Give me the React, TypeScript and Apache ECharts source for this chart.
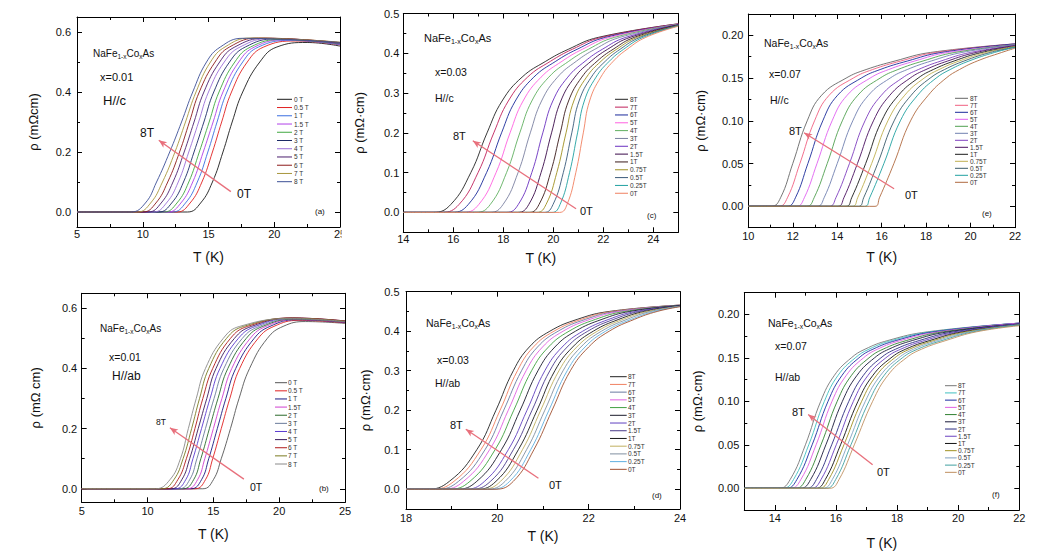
import { useEffect, useRef } from "react";
import * as echarts from "echarts";

const FONT = "'Liberation Sans', Arial, Helvetica, sans-serif";

// ---------------- Panel (a): x=0.01, H//c ----------------
const fieldsA = ["0 T", "0.5 T", "1 T", "1.5 T", "2 T", "3 T", "4 T", "5 T", "6 T", "7 T", "8 T"];
const colorsA = ["#1a1a1a", "#e02020", "#3a6ee0", "#b040e8", "#40a840", "#1c2a66", "#9b6fd8", "#4b1f6e", "#8c1a1a", "#a8963c", "#3c4f96"];
const levelsA = [0, 0.03, 0.1, 0.2, 0.3, 0.4, 0.5, 0.55];
const tempsA = [
  [13.4, 14.4, 15.3, 16.1, 16.8, 17.6, 18.9, 20.2],
  [12.6, 13.6, 14.5, 15.3, 16.0, 16.75, 17.95, 19.2],
  [12.25, 13.25, 14.15, 14.95, 15.65, 16.4, 17.6, 18.8],
  [11.9, 12.9, 13.8, 14.6, 15.35, 16.1, 17.3, 18.5],
  [11.6, 12.6, 13.5, 14.3, 15.05, 15.8, 17.0, 18.2],
  [11.2, 12.2, 13.1, 13.9, 14.65, 15.4, 16.6, 17.8],
  [10.8, 11.8, 12.7, 13.5, 14.25, 15.0, 16.2, 17.4],
  [10.4, 11.4, 12.3, 13.15, 13.9, 14.65, 15.85, 17.0],
  [10.0, 11.0, 11.9, 12.8, 13.55, 14.3, 15.5, 16.6],
  [9.6, 10.6, 11.5, 12.45, 13.25, 14.05, 15.15, 16.25],
  [9.1, 10.2, 11.05, 12.05, 12.95, 13.8, 14.85, 15.9],
];
const plateauA = [[22.5, 0.565], [21.6, 0.57], [21.2, 0.572], [20.8, 0.574], [20.5, 0.575], [20.1, 0.577], [19.7, 0.578], [19.3, 0.579], [18.8, 0.58], [18.2, 0.58], [17.6, 0.579]];
const endA = [0.553, 0.557, 0.558, 0.56, 0.561, 0.562, 0.563, 0.564, 0.565, 0.566, 0.565];
const xTicksA = [5, 10, 15, 20, 25];
const xMinorA = [7.5, 12.5, 17.5, 22.5];
const yTicksA = [0, 0.2, 0.4, 0.6];
const yMinorA = [0.1, 0.3, 0.5];
const arrowA = [[16.7, 0.068], [11.22, 0.239]];

// ---------------- Panel (b): x=0.01, H//ab ----------------
const fieldsB = ["0 T", "0.5 T", "1 T", "1.5T", "2 T", "3 T", "4 T", "5 T", "6 T", "7 T", "8 T"];
const colorsB = ["#555555", "#e02020", "#1a1a80", "#d040d0", "#2a6a2a", "#6a7a9a", "#5a3ad0", "#3a1a5a", "#b01a1a", "#7a7a20", "#8a8a8a"];
const levelsB = [0, 0.03, 0.1, 0.2, 0.3, 0.4, 0.5, 0.54];
const tempsB = [
  [14.2, 15.0, 15.6, 16.3, 16.95, 17.75, 19.1, 20.3],
  [13.6, 14.4, 14.95, 15.6, 16.25, 17.0, 18.4, 19.6],
  [13.3, 14.1, 14.65, 15.3, 15.95, 16.7, 18.1, 19.3],
  [13.0, 13.8, 14.35, 15.0, 15.65, 16.4, 17.8, 19.0],
  [12.7, 13.5, 14.05, 14.7, 15.35, 16.1, 17.5, 18.75],
  [12.4, 13.2, 13.75, 14.4, 15.05, 15.8, 17.2, 18.5],
  [12.1, 12.9, 13.45, 14.1, 14.75, 15.5, 16.9, 18.2],
  [11.8, 12.6, 13.2, 13.85, 14.5, 15.2, 16.6, 17.9],
  [11.5, 12.3, 12.95, 13.6, 14.2, 14.95, 16.3, 17.6],
  [11.1, 12.0, 12.7, 13.35, 13.95, 14.65, 16.0, 17.3],
  [10.6, 11.7, 12.5, 13.1, 13.7, 14.4, 15.75, 17.0],
];
const plateauB = [[22.0, 0.556], [21.5, 0.56], [21.3, 0.562], [21.2, 0.563], [21.1, 0.564], [21.0, 0.565], [21.0, 0.567], [21.0, 0.568], [21.0, 0.568], [21.0, 0.567], [21.0, 0.566]];
const endB = [0.55, 0.552, 0.553, 0.554, 0.555, 0.556, 0.557, 0.558, 0.558, 0.557, 0.556];
const xTicksB = [5, 10, 15, 20, 25];
const xMinorB = [7.5, 12.5, 17.5, 22.5];
const yTicksB = [0, 0.2, 0.4, 0.6];
const yMinorB = [0.1, 0.3, 0.5];
const arrowB = [[17.32, 0.032], [11.7, 0.203]];

// ---------------- Panel (c): x=0.03, H//c ----------------
const fieldsC = ["8T", "7T", "6T", "5T", "4T", "3T", "2T", "1.5T", "1T", "0.75T", "0.5T", "0.25T", "0T"];
const colorsC = ["#222222", "#c0205a", "#1a2a9a", "#ff60e0", "#60b060", "#7a80a0", "#6a30c0", "#3a0a4a", "#3a1a1a", "#a09020", "#3a5a7a", "#20a0a0", "#f08060"];
const levelsC = [0, 0.02, 0.1, 0.2, 0.28, 0.34, 0.38, 0.41, 0.44];
const tempsC = [
  [15.2, 15.9, 16.7, 17.35, 17.95, 18.75, 19.7, 20.6, 21.8],
  [15.55, 16.23, 16.99, 17.62, 18.2, 18.97, 19.89, 20.76, 21.93],
  [15.96, 16.6, 17.33, 17.93, 18.48, 19.22, 20.1, 20.95, 22.09],
  [16.41, 17.02, 17.71, 18.27, 18.79, 19.51, 20.35, 21.16, 22.26],
  [16.92, 17.48, 18.13, 18.66, 19.14, 19.82, 20.62, 21.4, 22.45],
  [17.47, 17.99, 18.59, 19.08, 19.53, 20.17, 20.92, 21.66, 22.66],
  [18.13, 18.6, 19.14, 19.58, 19.98, 20.58, 21.27, 21.96, 22.9],
  [18.58, 19.02, 19.51, 19.93, 20.3, 20.86, 21.51, 22.17, 23.07],
  [19.04, 19.43, 19.89, 20.28, 20.61, 21.14, 21.75, 22.39, 23.24],
  [19.34, 19.71, 20.14, 20.51, 20.82, 21.33, 21.91, 22.53, 23.36],
  [19.64, 19.99, 20.4, 20.74, 21.03, 21.52, 22.08, 22.67, 23.47],
  [19.95, 20.27, 20.65, 20.97, 21.24, 21.71, 22.24, 22.81, 23.59],
  [20.25, 20.55, 20.9, 21.2, 21.45, 21.9, 22.4, 22.95, 23.7],
];
const endC = [0.474, 0.474, 0.473, 0.473, 0.473, 0.472, 0.472, 0.471, 0.471, 0.47, 0.47, 0.469, 0.468];
const xTicksC = [14, 16, 18, 20, 22, 24];
const xMinorC = [15, 17, 19, 21, 23];
const yTicksC = [0, 0.1, 0.2, 0.3, 0.4, 0.5];
const yMinorC = [0.05, 0.15, 0.25, 0.35, 0.45];
const arrowC = [[20.91, 0.009], [16.78, 0.18]];

// ---------------- Panel (d): x=0.03, H//ab ----------------
const fieldsD = ["8T", "7T", "6T", "5T", "4T", "3T", "2T", "1.5T", "1T", "0.75T", "0.5T", "0.25T", "0T"];
const colorsD = ["#222222", "#f08060", "#6a7aa0", "#e060e0", "#40a040", "#1a1a2a", "#6040c0", "#4a3a8a", "#1a1a1a", "#c0b060", "#8090a0", "#60b0e0", "#a05030"];
const levelsD = [0, 0.02, 0.1, 0.2, 0.3, 0.36, 0.4, 0.43, 0.45];
const tempsD = [
  [18.45, 18.95, 19.55, 19.97, 20.35, 20.7, 21.15, 21.75, 22.45],
  [18.55, 19.05, 19.64, 20.06, 20.44, 20.79, 21.24, 21.84, 22.52],
  [18.66, 19.15, 19.73, 20.14, 20.53, 20.88, 21.33, 21.93, 22.6],
  [18.78, 19.26, 19.83, 20.24, 20.63, 20.99, 21.44, 22.03, 22.68],
  [18.93, 19.4, 19.95, 20.36, 20.75, 21.12, 21.57, 22.15, 22.79],
  [19.1, 19.55, 20.09, 20.5, 20.89, 21.26, 21.71, 22.29, 22.9],
  [19.28, 19.72, 20.24, 20.65, 21.04, 21.42, 21.87, 22.44, 23.03],
  [19.41, 19.85, 20.35, 20.76, 21.15, 21.53, 21.98, 22.55, 23.12],
  [19.55, 19.97, 20.46, 20.87, 21.26, 21.65, 22.1, 22.66, 23.22],
  [19.65, 20.07, 20.55, 20.95, 21.35, 21.74, 22.19, 22.75, 23.29],
  [19.76, 20.17, 20.64, 21.04, 21.44, 21.83, 22.28, 22.84, 23.36],
  [19.86, 20.27, 20.73, 21.13, 21.53, 21.92, 22.37, 22.93, 23.44],
  [19.95, 20.35, 20.8, 21.2, 21.6, 22.0, 22.45, 23.0, 23.5],
];
const endD = [0.466, 0.466, 0.466, 0.465, 0.465, 0.465, 0.464, 0.464, 0.464, 0.463, 0.463, 0.463, 0.462];
const xTicksD = [18, 20, 22, 24];
const xMinorD = [19, 21, 23];
const yTicksD = [0, 0.1, 0.2, 0.3, 0.4, 0.5];
const yMinorD = [0.05, 0.15, 0.25, 0.35, 0.45];
const arrowD = [[20.9, 0.028], [19.31, 0.152]];

// ---------------- Panel (e): x=0.07, H//c ----------------
const fieldsE = ["8T", "7T", "6T", "5T", "4T", "3T", "2T", "1.5T", "1T", "0.75T", "0.5T", "0.25T", "0T"];
const colorsE = ["#666666", "#f06080", "#1a2a9a", "#e060f0", "#50a050", "#7080b0", "#8040c0", "#4a1060", "#1a1a1a", "#c0b050", "#3a5a6a", "#20a0a0", "#b06a40"];
const levelsE = [0, 0.01, 0.05, 0.1, 0.13, 0.15, 0.16, 0.17, 0.18];
const tempsE = [
  [11.05, 11.45, 12.0, 12.65, 13.3, 14.4, 15.3, 16.6, 18.2],
  [11.38, 11.76, 12.32, 12.98, 13.64, 14.72, 15.59, 16.86, 18.42],
  [11.75, 12.12, 12.68, 13.35, 14.02, 15.08, 15.93, 17.16, 18.68],
  [12.17, 12.52, 13.09, 13.77, 14.45, 15.48, 16.31, 17.49, 18.97],
  [12.63, 12.96, 13.55, 14.23, 14.93, 15.93, 16.73, 17.86, 19.29],
  [13.1, 13.41, 14.0, 14.7, 15.41, 16.38, 17.15, 18.23, 19.61],
  [13.65, 13.94, 14.55, 15.25, 15.99, 16.92, 17.65, 18.67, 19.99],
  [14.03, 14.3, 14.91, 15.63, 16.37, 17.28, 17.99, 18.97, 20.25],
  [14.4, 14.65, 15.28, 16.0, 16.76, 17.64, 18.32, 19.26, 20.5],
  [14.68, 14.92, 15.55, 16.28, 17.04, 17.91, 18.58, 19.49, 20.7],
  [14.96, 15.19, 15.82, 16.56, 17.33, 18.18, 18.83, 19.71, 20.89],
  [15.24, 15.46, 16.1, 16.84, 17.62, 18.45, 19.08, 19.93, 21.08],
  [15.7, 15.9, 16.55, 17.3, 18.1, 18.9, 19.5, 20.3, 21.4],
];
const endE = [0.19, 0.19, 0.19, 0.189, 0.189, 0.189, 0.188, 0.188, 0.187, 0.187, 0.186, 0.186, 0.185];
const xTicksE = [10, 12, 14, 16, 18, 20, 22];
const xMinorE = [11, 13, 15, 17, 19, 21];
const yTicksE = [0, 0.05, 0.1, 0.15, 0.2];
const yMinorE = [0.025, 0.075, 0.125, 0.175];
const arrowE = [[16.56, 0.0205], [12.51, 0.086]];

// ---------------- Panel (f): x=0.07, H//ab ----------------
const fieldsF = ["8T", "7T", "6T", "5T", "4T", "3T", "2T", "1.5T", "1T", "0.75T", "0.5T", "0.25T", "0T"];
const colorsF = ["#777777", "#40c0c0", "#1a2aa0", "#e060e0", "#308030", "#1a1a3a", "#2a2a80", "#6a40c0", "#111111", "#a09020", "#80a0c0", "#40a0a0", "#c09060"];
const levelsF = [0, 0.01, 0.05, 0.1, 0.13, 0.15, 0.16, 0.17, 0.18];
const tempsF = [
  [14.15, 14.5, 15.0, 15.5, 15.95, 16.5, 16.95, 17.7, 19.0],
  [14.27, 14.61, 15.11, 15.62, 16.07, 16.63, 17.08, 17.83, 19.11],
  [14.38, 14.72, 15.22, 15.74, 16.2, 16.75, 17.21, 17.97, 19.22],
  [14.51, 14.85, 15.35, 15.87, 16.34, 16.9, 17.36, 18.12, 19.35],
  [14.68, 15.01, 15.51, 16.04, 16.51, 17.08, 17.54, 18.31, 19.51],
  [14.84, 15.17, 15.67, 16.21, 16.69, 17.26, 17.73, 18.5, 19.67],
  [15.04, 15.36, 15.86, 16.42, 16.9, 17.47, 17.95, 18.73, 19.86],
  [15.19, 15.51, 16.01, 16.57, 17.05, 17.63, 18.12, 18.9, 20.01],
  [15.34, 15.65, 16.15, 16.72, 17.21, 17.8, 18.28, 19.07, 20.15],
  [15.45, 15.76, 16.26, 16.84, 17.33, 17.92, 18.41, 19.2, 20.26],
  [15.57, 15.88, 16.38, 16.96, 17.46, 18.05, 18.54, 19.33, 20.38],
  [15.68, 15.99, 16.49, 17.08, 17.58, 18.17, 18.67, 19.47, 20.49],
  [15.8, 16.1, 16.6, 17.2, 17.7, 18.3, 18.8, 19.6, 20.6],
];
const endF = [0.19, 0.19, 0.19, 0.19, 0.189, 0.189, 0.189, 0.189, 0.188, 0.188, 0.188, 0.188, 0.187];
const xTicksF = [14, 16, 18, 20, 22];
const xMinorF = [15, 17, 19, 21];
const yTicksF = [0, 0.05, 0.1, 0.15, 0.2];
const yMinorF = [0.025, 0.075, 0.125, 0.175];
const arrowF = [[17.2, 0.027], [15.09, 0.085]];

type Pt = number[];

function buildCurve(xMin: number, levels: number[], temps: number[], tail: Pt[]): Pt[] {
  const pts: Pt[] = [[xMin, 0]];
  levels.forEach((r, i) => pts.push([temps[i], r]));
  return pts.concat(tail);
}

const panels = [
  {
    grid: { left: 77, top: 17, width: 263, height: 210 },
    xr: [5, 25], yr: [-0.05, 0.65], xT: xTicksA, xM: xMinorA, yT: yTicksA, yM: yMinorA, yDig: 1,
    yName: "ρ (mΩcm)", xGap: 23, yGap: 37, xMargin: 1, yMargin: 6,
    fields: fieldsA, colors: colorsA,
    curves: tempsA.map((t, i) => buildCurve(5, levelsA, t, [plateauA[i], [25, endA[i]]])),
    arrow: arrowA,
    legend: { x1: 277, x2: 292, tx: 294, y0: 99.3, dy: 8.24 },
    formula: [93, 53, 10], xtxt: [100, 77, "x=0.01", 11], htxt: [103, 100, "H//c", 13],
    t8: [140, 133, 12], t0: [237, 194, 12], tag: [315, 211, "(a)", 8],
  },
  {
    grid: { left: 403.3, top: 13.5, width: 275, height: 218.8 },
    xr: [14, 25], yr: [-0.05, 0.5], xT: xTicksC, xM: xMinorC, yT: yTicksC, yM: yMinorC, yDig: 1,
    yName: "ρ (mΩ·cm)", xGap: 19, yGap: 37, xMargin: 1, yMargin: 4,
    fields: fieldsC, colors: colorsC,
    curves: tempsC.map((t, i) => buildCurve(14, levelsC, t, [[25, endC[i]]])),
    arrow: arrowC,
    legend: { x1: 615, x2: 628, tx: 630, y0: 99.3, dy: 7.83 },
    formula: [424, 38, 11], xtxt: [435, 72, "x=0.03", 10.5], htxt: [435, 98, "H//c", 10.5],
    t8: [453, 136, 11], t0: [580, 211, 11], tag: [647, 215, "(c)", 8],
  },
  {
    grid: { left: 748.3, top: 14, width: 266.7, height: 213.7 },
    xr: [10, 22], yr: [-0.025, 0.225], xT: xTicksE, xM: xMinorE, yT: yTicksE, yM: yMinorE, yDig: 2,
    yName: "ρ (mΩ·cm)", xGap: 22, yGap: 41, xMargin: 3, yMargin: 5,
    fields: fieldsE, colors: colorsE,
    curves: tempsE.map((t, i) => buildCurve(10, levelsE, t, [[22, endE[i]]])),
    arrow: arrowE,
    legend: { x1: 955, x2: 968, tx: 970, y0: 98.3, dy: 7 },
    formula: [764, 43, 10.5], xtxt: [769, 74, "x=0.07", 10.5], htxt: [770, 100, "H//c", 10.5],
    t8: [789, 131, 11], t0: [905, 195, 11], tag: [982, 213, "(e)", 8],
  },
  {
    grid: { left: 81.7, top: 293.3, width: 263.3, height: 209 },
    xr: [5, 25], yr: [-0.045, 0.65], xT: xTicksB, xM: xMinorB, yT: yTicksB, yM: yMinorB, yDig: 1,
    yName: "ρ (mΩ cm)", xGap: 25, yGap: 40, xMargin: 3, yMargin: 4.5,
    fields: fieldsB, colors: colorsB,
    curves: tempsB.map((t, i) => buildCurve(5, levelsB, t, [plateauB[i], [25, endB[i]]])),
    arrow: arrowB,
    legend: { x1: 275, x2: 287, tx: 288, y0: 382.7, dy: 8.13 },
    formula: [100, 328, 10], xtxt: [109, 357, "x=0.01", 10.5], htxt: [112, 376, "H//ab", 12],
    t8: [156, 422, 8.5], t0: [250, 487, 10.5], tag: [319, 488, "(b)", 8],
  },
  {
    grid: { left: 406, top: 291.7, width: 274, height: 217.3 },
    xr: [18, 24], yr: [-0.05, 0.5], xT: xTicksD, xM: xMinorD, yT: yTicksD, yM: yMinorD, yDig: 1,
    yName: "ρ (mΩ·cm)", xGap: 20, yGap: 34, xMargin: 3, yMargin: 6.5,
    fields: fieldsD, colors: colorsD,
    curves: tempsD.map((t, i) => buildCurve(18, levelsD, t, [[24, endD[i]]])),
    arrow: arrowD,
    legend: { x1: 610, x2: 626.7, tx: 628, y0: 376.7, dy: 7.72 },
    formula: [426, 323, 10.5], xtxt: [437, 360, "x=0.03", 10.5], htxt: [435, 383, "H//ab", 10.5],
    t8: [450, 425, 11], t0: [549, 485, 11], tag: [652, 495, "(d)", 8],
  },
  {
    grid: { left: 744.3, top: 292.7, width: 275, height: 217.3 },
    xr: [13, 22], yr: [-0.025, 0.225], xT: xTicksF, xM: xMinorF, yT: yTicksF, yM: yMinorF, yDig: 2,
    yName: "ρ (mΩ·cm)", xGap: 26, yGap: 40, xMargin: 2, yMargin: 5,
    fields: fieldsF, colors: colorsF,
    curves: tempsF.map((t, i) => buildCurve(13, levelsF, t, [[22, endF[i]]])),
    arrow: arrowF,
    legend: { x1: 945, x2: 956.7, tx: 958, y0: 385.7, dy: 7.22 },
    formula: [768, 323, 10.5], xtxt: [775, 346, "x=0.07", 10.5], htxt: [775, 377, "H//ab", 10.5],
    t8: [792, 412, 11], t0: [877, 472, 11], tag: [992, 494, "(f)", 8],
  },
];

function mkAxis(gi: number, range: number[], position: string, ticks: number[], len: number, line: boolean, label: any, name?: any) {
  const ax: any = {
    type: "value", gridIndex: gi, min: range[0], max: range[1], position, offset: 0,
    axisLine: { show: line, onZero: false, lineStyle: { color: "#000", width: 1 } },
    axisTick: { show: true, inside: true, length: len, customValues: ticks, lineStyle: { color: "#000", width: 1 } },
    axisLabel: label || { show: false },
    splitLine: { show: false },
    minorTick: { show: false },
    minorSplitLine: { show: false },
  };
  if (name) Object.assign(ax, name);
  return ax;
}

function buildOption() {
  const grids: any[] = [];
  const xAxes: any[] = [];
  const yAxes: any[] = [];
  const series: any[] = [];
  const graphic: any[] = [];

  panels.forEach((p, gi) => {
    grids.push({ ...p.grid, containLabel: false, outerBoundsMode: "none" });
    const xLabel = {
      show: true, customValues: p.xT, color: "#111", fontSize: 11, fontFamily: FONT, margin: p.xMargin,
      formatter: (v: number) => String(v),
    };
    const yLabel = {
      show: true, customValues: p.yT, color: "#111", fontSize: 11, fontFamily: FONT, margin: p.yMargin,
      formatter: (v: number) => v.toFixed(p.yDig),
    };
    xAxes.push(mkAxis(gi, p.xr, "bottom", p.xT, 5, true, xLabel, {
      name: "T (K)", nameLocation: "middle", nameGap: p.xGap,
      nameTextStyle: { fontSize: 14, fontFamily: FONT, color: "#111" },
    }));
    xAxes.push(mkAxis(gi, p.xr, "bottom", p.xM, 3, false, null));
    xAxes.push(mkAxis(gi, p.xr, "top", p.xT, 5, true, null));
    xAxes.push(mkAxis(gi, p.xr, "top", p.xM, 3, false, null));
    yAxes.push(mkAxis(gi, p.yr, "left", p.yT, 5, true, yLabel, {
      name: p.yName, nameLocation: "middle", nameGap: p.yGap, nameRotate: 90,
      nameTextStyle: { fontSize: 13, fontFamily: FONT, color: "#111" },
    }));
    yAxes.push(mkAxis(gi, p.yr, "left", p.yM, 3, false, null));
    yAxes.push(mkAxis(gi, p.yr, "right", p.yT, 5, true, null));
    yAxes.push(mkAxis(gi, p.yr, "right", p.yM, 3, false, null));

    p.curves.forEach((data, i) => {
      const s: any = {
        type: "line", name: p.fields[i], xAxisIndex: gi * 4, yAxisIndex: gi * 4,
        data, symbol: "none", showSymbol: false, smooth: 0.45,
        lineStyle: { color: p.colors[i], width: 0.9 }, itemStyle: { color: p.colors[i] },
        silent: true, clip: true, z: 2,
      };
      if (i === 0) {
        s.markLine = {
          silent: true, symbol: ["none", "arrow"], symbolSize: [5, 8], animation: false,
          lineStyle: { color: "#e8707c", width: 1.3, type: "solid" },
          label: { show: false },
          emphasis: { disabled: true },
          data: [[{ coord: p.arrow[0] }, { coord: p.arrow[1] }]],
        };
      }
      series.push(s);
    });

    // legend drawn by hand, one row per series
    p.fields.forEach((f, i) => {
      const y = p.legend.y0 + i * p.legend.dy;
      graphic.push({
        type: "line", z: 40, silent: true,
        shape: { x1: p.legend.x1, y1: y, x2: p.legend.x2, y2: y },
        style: { stroke: p.colors[i], lineWidth: 1 },
      });
      graphic.push({
        type: "text", z: 40, silent: true, x: p.legend.tx, y,
        style: { text: f, fill: "#333", fontSize: 6.5, fontFamily: FONT, align: "left", verticalAlign: "middle" },
      });
    });

    const txt = (a: any[], text?: string) => ({
      type: "text", z: 40, silent: true, x: a[0], y: a[1],
      style: { text: text ?? a[2], fill: "#111", fontSize: a[3] ?? a[2], fontFamily: FONT, align: "left", verticalAlign: "middle" },
    });
    const fs = p.formula[2];
    graphic.push({
      type: "text", z: 40, silent: true, x: p.formula[0], y: p.formula[1],
      style: {
        text: "{n|NaFe}{s|1-x}{n|Co}{s|x}{n|As}", align: "left", verticalAlign: "middle",
        rich: {
          n: { fontSize: fs, fontFamily: FONT, fill: "#111", lineHeight: fs + 4 },
          s: { fontSize: fs * 0.65, fontFamily: FONT, fill: "#111", lineHeight: fs * 0.8, verticalAlign: "bottom" },
        },
      },
    });
    graphic.push(txt(p.xtxt));
    graphic.push(txt(p.htxt));
    graphic.push({ ...txt([p.t8[0], p.t8[1], "8T", p.t8[2]]) });
    graphic.push({ ...txt([p.t0[0], p.t0[1], "0T", p.t0[2]]) });
    graphic.push(txt(p.tag));
  });

  // the source picture is cropped just right of panel (a)'s last tick label
  graphic.push({ type: "rect", z: 100, silent: true, shape: { x: 341.5, y: 228, width: 12, height: 16 }, style: { fill: "#fff" } });

  return {
    animation: false,
    backgroundColor: "#ffffff",
    grid: grids,
    xAxis: xAxes,
    yAxis: yAxes,
    series,
    graphic,
  };
}

export default function App() {
  const ref = useRef<HTMLDivElement>(null);
  useEffect(() => {
    if (!ref.current) return;
    const chart = echarts.init(ref.current, undefined, { renderer: "svg" });
    chart.setOption(buildOption() as any);
    return () => chart.dispose();
  }, []);
  return (
    <div
      ref={ref}
      style={{ position: "fixed", left: 0, top: 0, width: 1039, height: 555, background: "#fff" }}
    />
  );
}
